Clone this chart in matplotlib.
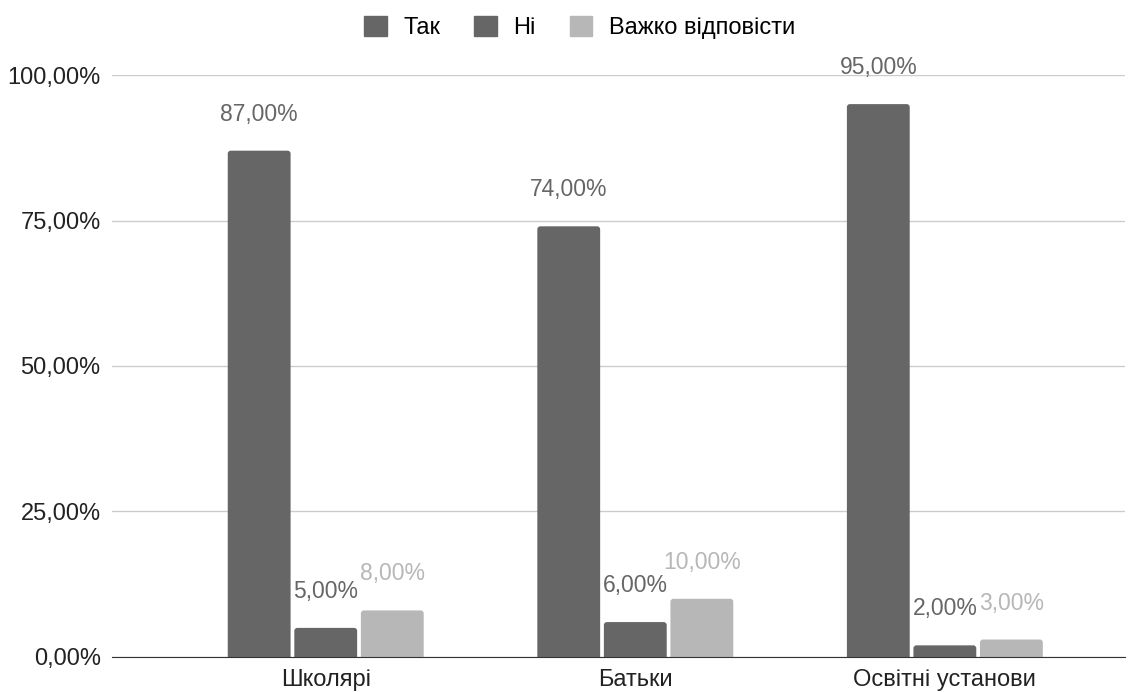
import matplotlib.pyplot as plt
from matplotlib.patches import FancyBboxPatch
import numpy as np

categories = ["Школярі", "Батьки", "Освітні установи"]
series_names = ["Так", "Ні", "Важко відповісти"]
tak = [87.0, 74.0, 95.0]
ni = [5.0, 6.0, 2.0]
vazhko = [8.0, 10.0, 3.0]
yticks = [0, 25, 50, 75, 100]

colors = ["#666666", "#666666", "#b7b7b7"]
label_colors = ["#666666", "#666666", "#b7b7b7"]

plt.rcParams["font.family"] = ["Liberation Sans", "DejaVu Sans"]
FS = 17

fig = plt.figure(figsize=(11.41, 6.92), dpi=100)
ax = fig.add_axes([0.098, 0.0506, 0.888, 0.841])

x = np.arange(len(categories))
width = 0.203
offsets = [-width - 0.012, 0, width + 0.012]
ax.set_ylim(0, 100)
ax.set_xlim(-0.691, 2.582)

# corner rounding: ~3 px in x and y
rx = 0.0097
aspect = 0.515 / rx

for vals, name, c, lc, off in zip([tak, ni, vazhko], series_names, colors, label_colors, offsets):
    bars = ax.bar(x + off, vals, width, color=c, label=name, zorder=3)
    for b, v in zip(bars, vals):
        b.set_visible(False)
        patch = FancyBboxPatch((b.get_x(), -2), width, v + 2,
                               boxstyle=f"round,pad=0,rounding_size={rx}",
                               mutation_aspect=aspect, facecolor=c, edgecolor="none",
                               zorder=3, clip_on=True)
        ax.add_patch(patch)
        ax.annotate(f"{v:.2f}%".replace(".", ","),
                    (b.get_x() + b.get_width() / 2, v),
                    xytext=(0, 18), textcoords="offset points",
                    ha="center", va="bottom", fontsize=16.5, color=lc)

ax.set_yticks(yticks)
ax.set_yticklabels([f"{t:.2f}%".replace(".", ",") for t in yticks], fontsize=FS, color="#222222")
ax.set_xticks(x)
ax.set_xticklabels(categories, fontsize=FS, color="#222222")
ax.tick_params(length=0)
ax.tick_params(axis="y", pad=8)
ax.tick_params(axis="x", pad=9)
ax.grid(axis="y", color="#cccccc", linewidth=1, zorder=0)
for s in ["top", "right", "left"]:
    ax.spines[s].set_visible(False)
ax.spines["bottom"].set_color("#333333")
ax.spines["bottom"].set_zorder(4)

handles = [plt.Rectangle((0, 0), 1, 1, color=c) for c in colors]
fig.legend(handles, series_names, loc="upper center", bbox_to_anchor=(0.508, 1.008), ncol=3,
           frameon=False, fontsize=FS, handlelength=0.95, handleheight=0.95,
           columnspacing=1.45, handletextpad=0.7)

fig.savefig("out.png", dpi=100)
